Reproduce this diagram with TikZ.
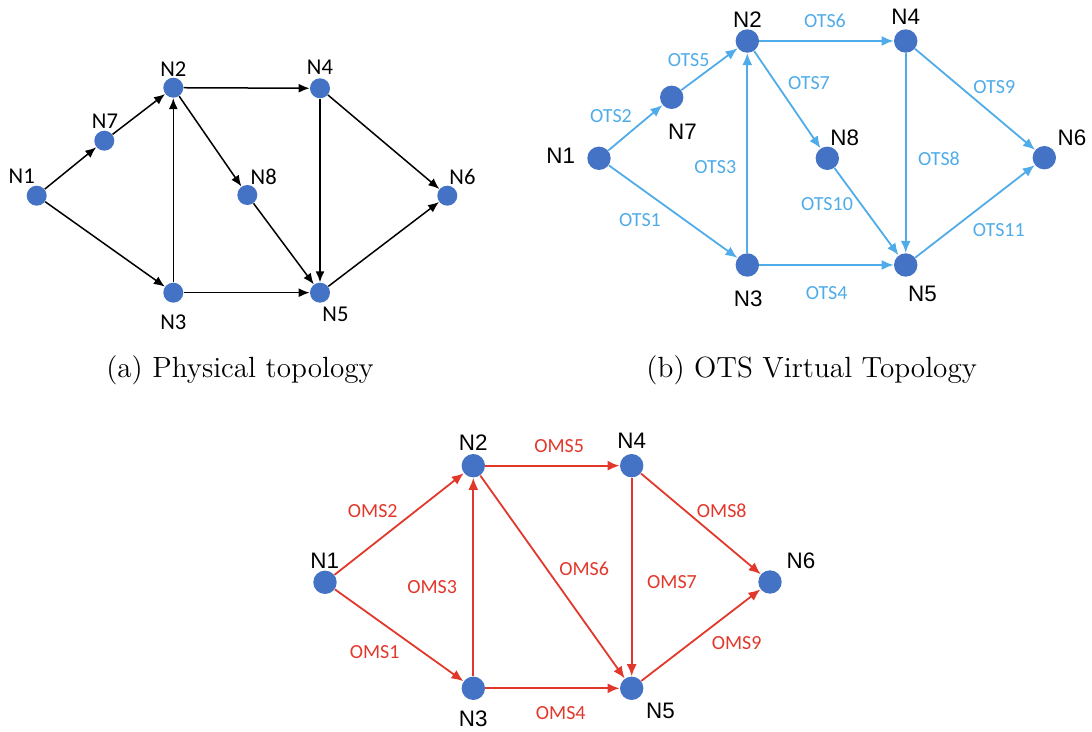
\documentclass[tikz,border=0pt]{standalone}
\usepackage{fontspec}
\newfontfamily\calibfont{Carlito}
\newfontfamily\arialfont{Liberation Sans}
\usetikzlibrary{arrows.meta,positioning}
\definecolor{nodeblue}{HTML}{4472C4}
\definecolor{otsblue}{HTML}{4FACE8}
\definecolor{omsred}{HTML}{E2382B}

\begin{document}
\begin{tikzpicture}[x=0.5pt,y=-0.5pt,% one unit = one pixel of the figure
        dot/.style={circle,fill=nodeblue,inner sep=0pt,minimum size=11.7pt},
        smalldot/.style={dot,minimum size=10pt},
        phys/.style={-{Latex[length=5.5pt,width=4.5pt]},line width=0.75pt,black},
        ots/.style={-{Latex[length=6pt,width=5pt]},line width=0.9pt,otsblue},
        oms/.style={-{Latex[length=6pt,width=5pt]},line width=0.9pt,omsred},
        physname/.style={font=\calibfont\fontsize{11.3pt}{13pt}\selectfont},
        nname/.style={font=\arialfont\fontsize{11.2pt}{13pt}\selectfont},
        otsname/.style={text=otsblue,font=\calibfont\fontsize{10pt}{12pt}\selectfont},
        omsname/.style={text=omsred,font=\calibfont\fontsize{10pt}{12pt}\selectfont},
        capt/.style={anchor=base,font=\fontsize{14.6pt}{17pt}\selectfont}]
\useasboundingbox (0,0) rectangle (1092,732);

% (a) physical topology
\foreach \n/\x/\y in {1/36.7/195.7,7/104.3/140.7,2/173.3/87.7,4/320/88.3,
        8/247.3/195,6/447.3/195.7,3/173.3/292.7,5/320/292.7}{
\node[smalldot] (a\n) at (\x,\y) {};
}
\foreach \n/\x/\y in {1/21.7/176.7,7/105/121.2,2/173.3/68.8,4/320/67,
        8/263.7/176.7,6/462.5/177.3,3/173.3/322.5,5/335.5/314.5}{
\node[physname] (a\n-name) at (\x,\y) {N\n};
}
\foreach \s/\t in {1/7,7/2,1/3,3/2,2/4,2/8,8/5,3/5,4/5,4/6,5/6}
  \draw[phys] (a\s) -- (a\t);
\node[capt] (capa) at (240,377.3) {(a) Physical topology};

% (b) OTS virtual topology
\foreach \n/\x/\y in {1/599/158.3,7/671.7/97.3,2/747.3/41,4/905.7/41,
        8/827.3/158.3,6/1044.3/157.7,3/747.3/265,5/905.7/265}{
\node[dot] (b\n) at (\x,\y) {};
}
\foreach \n/\x/\y in {1/560.7/155.3,7/682.5/131.7,2/747.5/20,4/905.8/17.2,
        8/844.7/137.5,6/1072/137.5,3/748.3/298.3,5/922.5/294.2}{
\node[nname] (b\n-name) at (\x,\y) {N\n};
}
\foreach \s/\t/\k/\x/\y in {1/3/1/640/220.3,1/7/2/611/116.3,3/2/3/715.3/167,
        3/5/4/826.7/293.3,7/2/5/688.7/60,2/4/6/825/20.7,2/8/7/809/83,
        4/5/8/939/158.7,4/6/9/994.3/87,8/5/10/827/204,5/6/11/998.8/230.3}{
\draw[ots] (b\s) -- (b\t);
\node[otsname] (ots\k) at (\x,\y) {OTS\k};
}
\node[capt] (capb) at (811.7,377.3) {(b) OTS Virtual Topology};

% (c) OMS virtual topology
\foreach \n/\x/\y in {1/325/582.3,2/473.3/465.7,4/631.7/465.7,
        6/770/582,3/473.3/688.3,5/631.7/688.3}{
\node[dot] (c\n) at (\x,\y) {};
}
\foreach \n/\x/\y in {1/324.7/560.5,2/473.3/442.8,4/631.7/440.5,
        6/801/561,3/473.3/718.3,5/660.5/711}{
\node[nname] (c\n-name) at (\x,\y) {N\n};
}
\foreach \s/\t/\k/\x/\y in {1/3/1/374.7/652.2,1/2/2/372.8/511.2,3/2/3/432.2/587,
        3/5/4/560.8/712.7,2/4/5/559.2/446,2/5/6/584.2/568.8,4/5/7/672/582.5,
        4/6/8/721.8/510.8,5/6/9/736.7/643}{
\draw[oms] (c\s) -- (c\t);
\node[omsname] (oms\k) at (\x,\y) {OMS\k};
}

\end{tikzpicture}
\end{document}
